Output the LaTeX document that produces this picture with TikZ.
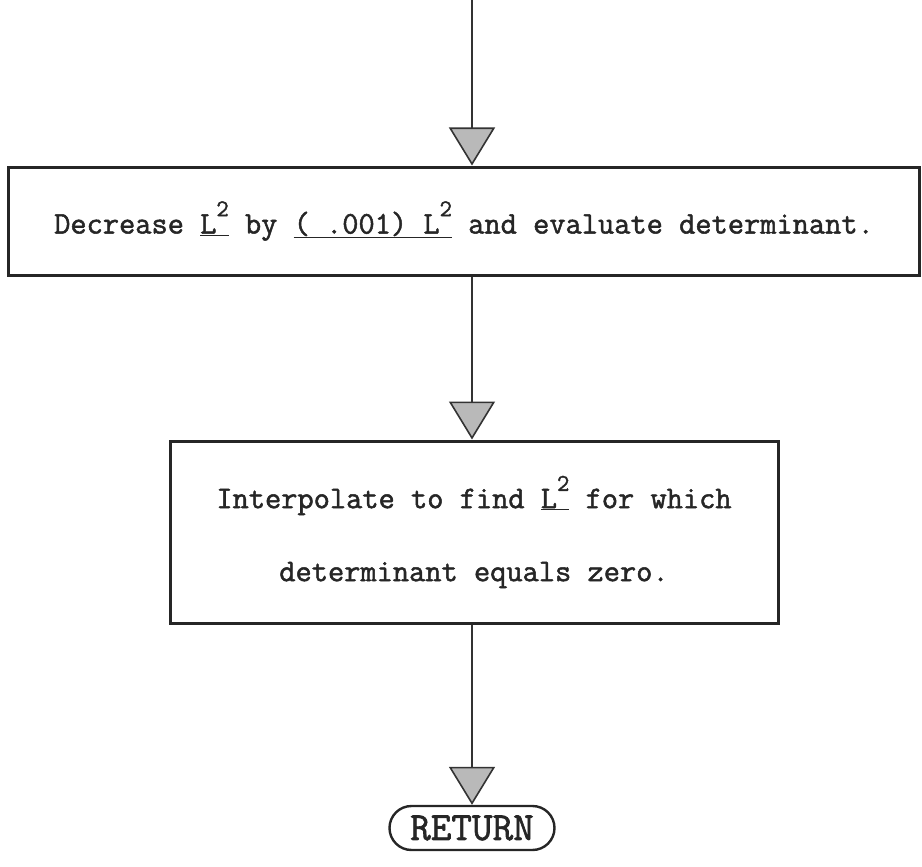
\documentclass[tikz,border=0pt]{standalone}
\usepackage{fontspec}
\newfontfamily\tw{Latin Modern Mono}[UprightFeatures={FakeBold=1.6}]
\usetikzlibrary{arrows.meta,shapes.misc}
\newcommand\Lsq{\underline{L\raisebox{0.55em}{\fontsize{24}{24}\selectfont 2}}}
\begin{document}
\begin{tikzpicture}[x=1pt,y=-1pt,
  box/.style={draw=black!85, line width=3pt, rectangle, inner sep=0pt},
  txt/.style={font=\fontsize{31.5}{73}\tw, text=black!85},
  flow/.style={line width=2pt, draw=black!80,
    -{Triangle[length=38pt 0, width=46pt 0, fill=gray!55, line width=1.6pt]}},
]
\useasboundingbox (0,0) rectangle (922,867);
\coordinate (top) at (472,0);
\node[box, txt, minimum width=911pt, minimum height=108pt] (b1) at (464,221)
  {Decrease \Lsq{} by \underline{( .001) L\raisebox{0.55em}{\fontsize{24}{24}\selectfont 2}} and evaluate determinant.};
\node[box, txt, align=center, minimum width=608pt, minimum height=182pt] (b2) at (474,532)
  {Interpolate to find \Lsq{} for which\\ determinant equals zero.};
\node[draw=black!85, line width=2.4pt, rounded rectangle, inner sep=0pt,
  minimum width=165pt, minimum height=44pt,
  font=\fontsize{40}{40}\tw, text=black!85] (ret) at (472,828) {RETURN};
\draw[flow] (top) -- (top |- b1.north);
\draw[flow] (b1.south -| top) -- (top |- b2.north);
\draw[flow] (b2.south -| top) -- (ret.north);
\end{tikzpicture}
\end{document}
